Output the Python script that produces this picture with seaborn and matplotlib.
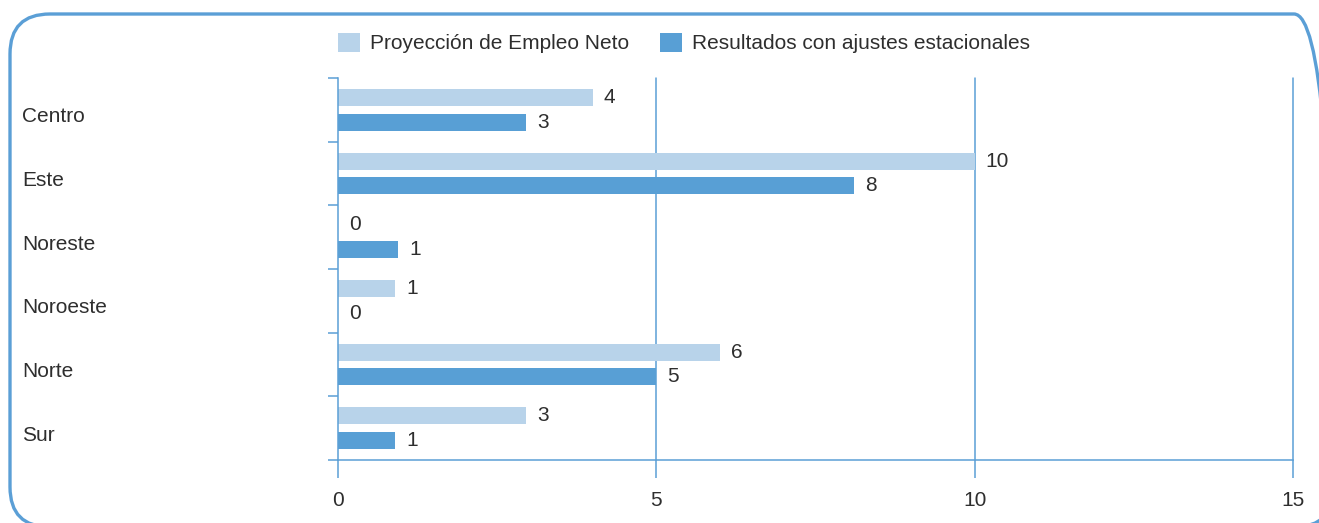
import matplotlib
matplotlib.use("Agg")
import matplotlib.pyplot as plt
import matplotlib.transforms as mtrans
from matplotlib.patches import FancyBboxPatch, Patch
import seaborn as sns
import pandas as pd
import numpy as np

# ---- data ----
categories = ["Centro", "Este", "Noreste", "Noroeste", "Norte", "Sur"]
series_names = ["Proyección de Empleo Neto", "Resultados con ajustes estacionales"]
proyeccion = [4.0, 10.0, 0.0, 0.9, 6.0, 2.95]
resultados = [2.95, 8.1, 0.95, 0.0, 5.0, 0.9]
x_ticks = [0, 5, 10, 15]

LIGHT = "#B8D3EA"
DARK = "#589FD5"
LINE = "#5B9FD6"
TEXT = "#2e2e2e"
FS = 15

sns.set_theme(style="white")
plt.rcParams["font.family"] = ["Liberation Sans", "DejaVu Sans"]

df = pd.DataFrame({
    "Región": categories * 2,
    "Valor": proyeccion + resultados,
    "Serie": [series_names[0]] * len(categories) + [series_names[1]] * len(categories),
})

W, H = 1319, 523
fig = plt.figure(figsize=(W / 100, H / 100), dpi=100)
ax = fig.add_axes([338 / W, 1 - 460 / H, (1293 - 338) / W, (460 - 78) / H])

sns.barplot(data=df, y="Región", x="Valor", hue="Serie", order=categories,
            hue_order=series_names, palette=[LIGHT, DARK], orient="y",
            width=0.78, gap=0.32, ax=ax, saturation=1, errorbar=None,
            linewidth=0, zorder=3)

ax.legend_.remove()

# value labels
for cont in ax.containers:
    ax.bar_label(cont, fmt="%.0f", padding=8, fontsize=FS, color=TEXT)

ax.set_xlim(0, 15)
ax.set_ylim(len(categories) - 0.5, -0.5)
ax.set_xticks(x_ticks)
ax.set_xticklabels([str(t) for t in x_ticks], fontsize=FS, color=TEXT)
ax.set_xlabel("")
ax.set_ylabel("")

# gridlines
for t in x_ticks[1:]:
    ax.axvline(t, color=LINE, lw=1.1, zorder=1, clip_on=False)

# spines
for s in ["top", "right"]:
    ax.spines[s].set_visible(False)
for s in ["left", "bottom"]:
    ax.spines[s].set_color(LINE)
    ax.spines[s].set_linewidth(1.1)
    ax.spines[s].set_zorder(4)

ax.tick_params(axis="x", direction="out", length=13, width=1.1, color=LINE, pad=9, bottom=True)
ax.set_yticks(range(len(categories)))
ax.set_yticklabels([])
ax.tick_params(axis="y", which="major", length=0, left=False)
ax.set_yticks(np.arange(-0.5, len(categories), 1.0), minor=True)
ax.tick_params(axis="y", which="minor", direction="out", length=7.2, width=1.1, color=LINE, left=True)

# category labels, left aligned
tr = mtrans.blended_transform_factory(fig.transFigure, ax.transData)
for i, c in enumerate(categories):
    ax.text(22 / W, i + 0.11, c, transform=tr, ha="left", va="center",
            fontsize=FS, color=TEXT, clip_on=False)

# legend
handles = [Patch(facecolor=LIGHT, edgecolor="none"), Patch(facecolor=DARK, edgecolor="none")]
fig.legend(handles, series_names, loc="center left",
           bbox_to_anchor=(338 / W, 1 - 43 / H), ncol=2, frameon=False,
           fontsize=FS, handlelength=1.05, handleheight=1.05, handletextpad=0.5,
           columnspacing=1.45, borderpad=0, borderaxespad=0, labelcolor=TEXT)

# rounded frame
frame = FancyBboxPatch((10, H - 527), 1324, 513,
                       boxstyle="round,pad=0,rounding_size=40",
                       transform=mtrans.IdentityTransform(),
                       facecolor="none", edgecolor=LINE, linewidth=2.4,
                       clip_on=False)
fig.patches.append(frame)

fig.savefig("out.png", dpi=100)
